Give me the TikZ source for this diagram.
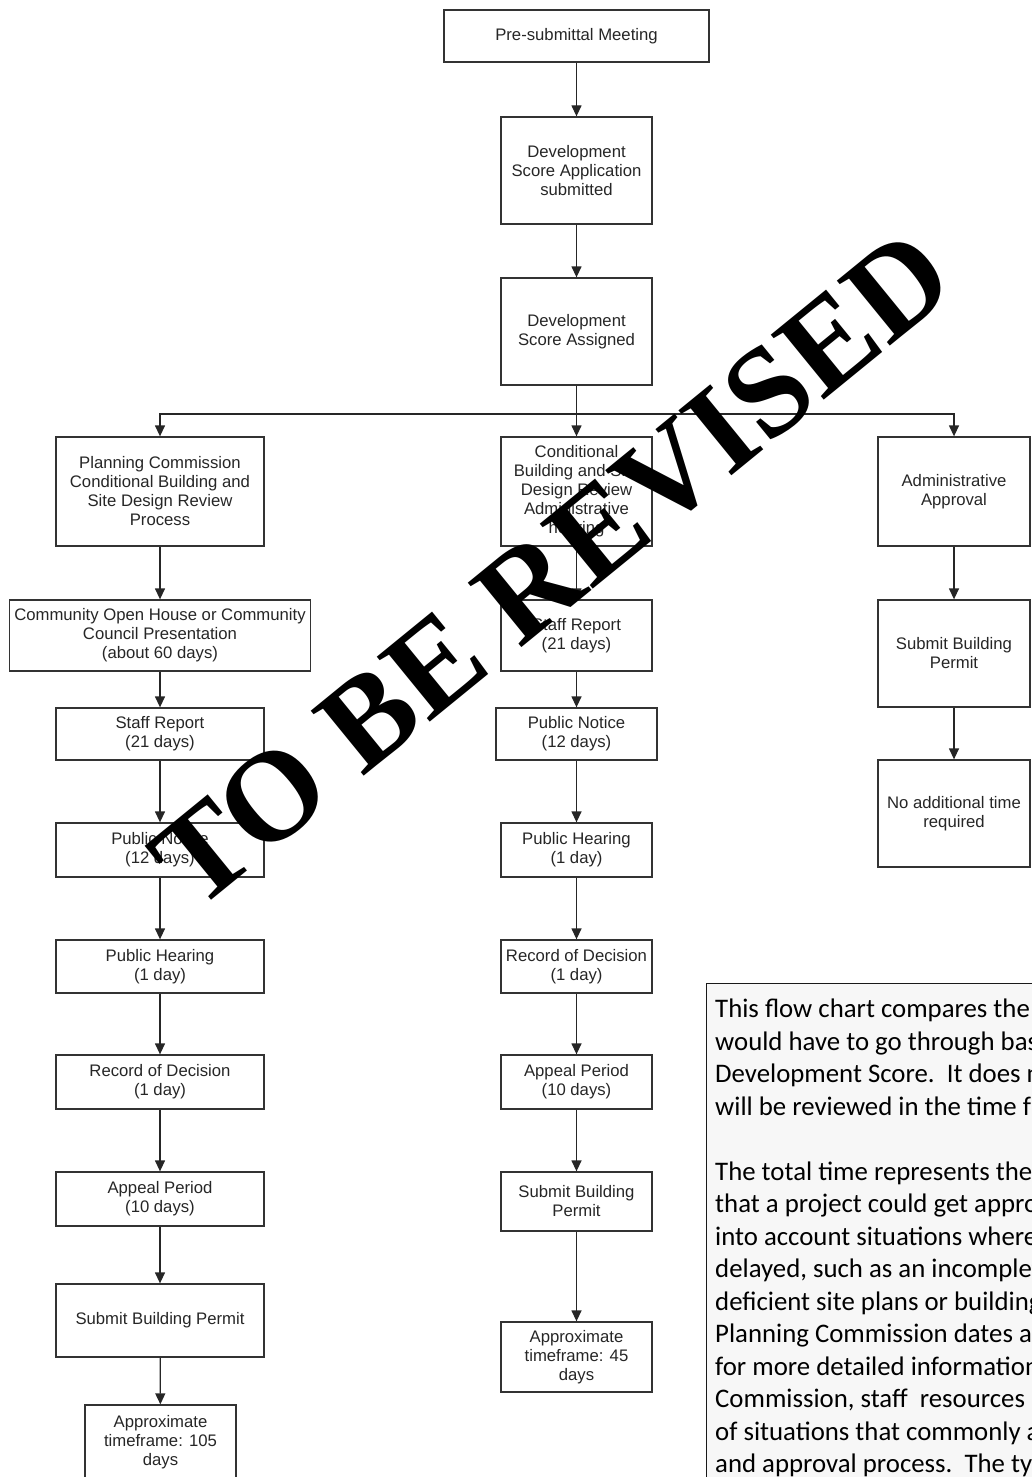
\documentclass[tikz,border=0pt]{standalone}
\usepackage{fontspec}
\setmainfont{Liberation Sans}
\newfontfamily\notefont{Carlito}
\newfontfamily\stampfont{Liberation Serif}
\usetikzlibrary{arrows.meta}

\begin{document}
\begin{tikzpicture}[x=1pt,y=-1pt,
  box/.style={draw=black!80,line width=1.3pt,align=center,inner sep=0pt,
    text=black!85,font=\fontsize{16.7}{19}\selectfont},
  lbox/.style={box,minimum width=208},
  mbox/.style={box,minimum width=151},
  rbox/.style={box,minimum width=152},
  link/.style={draw=black!85,line width=1.3pt},
  arr/.style={link,-{Triangle[length=11pt,width=10pt]}}]
  \clip (0,0) rectangle (1032,1477);
  \node[box,minimum width=265,minimum height=52] (pre) at (576.5,36) {Pre-submittal Meeting};
  \node[mbox,minimum height=107] (app) at (576.5,170.5) {Development\\Score Application\\submitted};
  \node[mbox,minimum height=107] (assigned) at (576.5,331.5) {Development\\Score Assigned};
  \coordinate (split) at (576.5,414);
  \node[lbox,minimum height=109] (pc) at (160,491.5) {Planning Commission\\Conditional Building and\\Site Design Review\\Process};
  \node[mbox,minimum height=109] (cond) at (576.5,491.5) {Conditional\\Building and Site\\Design Review\\Administrative\\hearing};
  \node[rbox,minimum height=109] (admin) at (954,491.5) {Administrative\\Approval};
  \node[box,minimum width=301,minimum height=71] (comm) at (160,635.5) {Community Open House or Community\\Council Presentation\\(about 60 days)};
  \node[mbox,minimum height=71] (staffM) at (576.5,635.5) {Staff Report\\(21 days)};
  \node[rbox,minimum height=107] (permitR) at (954,653.5) {Submit Building\\Permit};
  \node[lbox,minimum height=52] (staffL) at (160,734) {Staff Report\\(21 days)};
  \node[box,minimum width=161,minimum height=52] (noticeM) at (576.5,734) {Public Notice\\(12 days)};
  \node[rbox,minimum height=107] (noaddR) at (954,813.5) {No additional time\\required};
  \node[lbox,minimum height=54] (noticeL) at (160,850) {Public Notice\\(12 days)};
  \node[mbox,minimum height=54] (hearingM) at (576.5,850) {Public Hearing\\(1 day)};
  \node[lbox,minimum height=53] (hearingL) at (160,966.5) {Public Hearing\\(1 day)};
  \node[mbox,minimum height=53] (recordM) at (576.5,966.5) {Record of Decision\\(1 day)};
  \node[lbox,minimum height=54] (recordL) at (160,1082) {Record of Decision\\(1 day)};
  \node[mbox,minimum height=54] (appealM) at (576.5,1082) {Appeal Period\\(10 days)};
  \node[lbox,minimum height=54] (appealL) at (160,1199) {Appeal Period\\(10 days)};
  \node[mbox,minimum height=59] (permitM) at (576.5,1201.5) {Submit Building\\Permit};
  \node[lbox,minimum height=73] (permitL) at (160,1320.5) {Submit Building Permit};
  \node[mbox,minimum height=70] (approxM) at (576.5,1357) {Approximate\\timeframe: 45\\days};
  \node[mbox,minimum height=74] (approxL) at (160.5,1442) {Approximate\\timeframe: 105\\days};
  \draw[link] (assigned) -- (split);
  \draw[arr] (split) -| (pc);
  \draw[arr] (split) -| (admin);
  \foreach \a/\b in {pre/app,app/assigned,split/cond,
      pc/comm,comm/staffL,staffL/noticeL,noticeL/hearingL,hearingL/recordL,recordL/appealL,appealL/permitL,permitL/approxL,
      cond/staffM,staffM/noticeM,noticeM/hearingM,hearingM/recordM,recordM/appealM,appealM/permitM,permitM/approxM,
      admin/permitR,permitR/noaddR}
    \draw[arr] (\a) -- (\b);
  \node[draw=black!90,line width=1.3pt,fill=black!3,minimum width=340,minimum height=510,
    anchor=north west,inner sep=0pt] (notebox) at (706,983) {};
  \node[anchor=north west,align=left,inner sep=0pt,
    font=\notefont\fontsize{26.8}{32.5}\selectfont] (note) at (715,999)
    {This flow chart compares the\\would have to go through bas\\Development Score.\ \ It does n\\will be reviewed in the time fr\\[32.5pt]
     The total time represents the\\that a project could get appro\\into account situations where\\delayed, such as an incomplet\\deficient site plans or building\\Planning Commission dates a\\for more detailed information\\Commission, staff\ \ resources a\\of situations that commonly a\\and approval process.\ \ The ty};
  \node[anchor=base west,rotate=39.2,inner sep=0pt,
    font=\stampfont\bfseries\fontsize{128}{130}\selectfont] (stamp) at (196,913) {TO BE REVISED};
\end{tikzpicture}
\end{document}
